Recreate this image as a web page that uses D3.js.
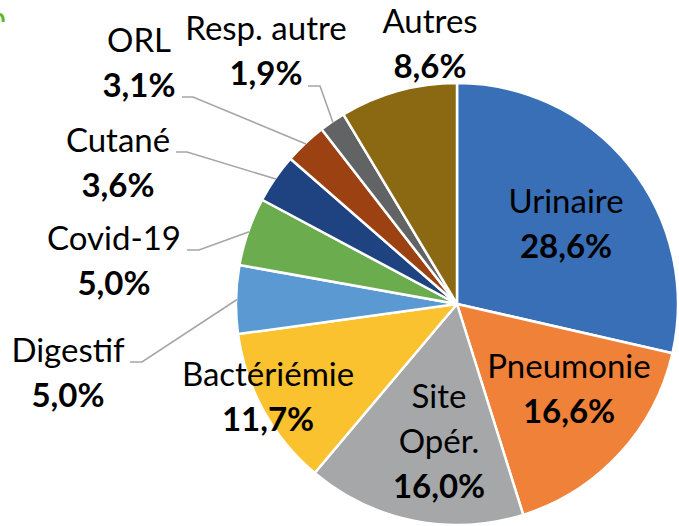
<!DOCTYPE html>
<html lang="fr">
<head>
<meta charset="utf-8">
<title>Sites infectieux</title>
<style>
  body { margin: 0; background: #fff; }
  svg { display: block; }
  text { font-family: Lato, "Open Sans", sans-serif; fill: #000; }
  .pct { font-weight: bold; }
</style>
</head>
<body>
<svg width="679" height="526"></svg>
<script src="https://d3js.org/d3.v7.min.js"></script>
<script>
// data, clockwise from 12 o'clock
var categories = ["Urinaire", "Pneumonie", "Site Opér.", "Bactériémie", "Digestif", "Covid-19", "Cutané", "ORL", "Resp. autre", "Autres"];
var values = [28.6, 16.6, 16.0, 11.7, 5.0, 5.0, 3.6, 3.1, 1.9, 8.6];
var colors = ["#386fb7", "#ef8139", "#a5a7a8", "#f9c22e", "#5a99d1", "#6aac4e", "#1f4280", "#9c4111", "#626365", "#8b6912"];

// label layout: text lines, anchor x, first baseline y, and leader start (null = inside slice)
var labelLayout = [
  {lines: ["Urinaire"], x: 566, y: 213, lead: null},
  {lines: ["Pneumonie"], x: 569, y: 378, lead: null},
  {lines: ["Site", "Opér."], x: 439, y: 408, lead: null},
  {lines: ["Bactériémie"], x: 268, y: 386, lead: null},
  {lines: ["Digestif"], x: 68, y: 362, lead: [[130, 362], [142, 362]]},
  {lines: ["Covid-19"], x: 114, y: 250, lead: [[187, 250], [199, 250]]},
  {lines: ["Cutané"], x: 118, y: 152, lead: [[176, 152], [187, 152]]},
  {lines: ["ORL"], x: 139, y: 52, lead: [[182, 97], [193, 97]]},
  {lines: ["Resp. autre"], x: 266, y: 40, lead: [[308, 86], [320, 86]]},
  {lines: ["Autres"], x: 430, y: 33, lead: null}
];

var svg = d3.select("svg"),
    cx = 457, cy = 304, radius = 221,
    lineGap = 45;

var fmt = function(v) { return d3.format(".1f")(v).replace(".", ",") + "%"; };

var pie = d3.pie().sort(null).value(function(d) { return d; });
var arcs = pie(values);
var arc = d3.arc().innerRadius(0).outerRadius(radius);

var g = svg.append("g").attr("transform", "translate(" + cx + "," + cy + ")");

g.selectAll("path.slice").data(arcs).enter()
  .append("path")
    .attr("class", "slice")
    .attr("d", arc)
    .attr("fill", function(d, i) { return colors[i]; })
    .attr("stroke", "#fff")
    .attr("stroke-width", 2.5)
    .attr("stroke-linejoin", "round");

// leader lines
arcs.forEach(function(d, i) {
  var lay = labelLayout[i];
  if (!lay.lead) return;
  var a = (d.startAngle + d.endAngle) / 2;
  var end = [cx + (radius - 1) * Math.sin(a), cy - (radius - 1) * Math.cos(a)];
  svg.append("polyline")
    .attr("points", lay.lead.concat([end]).map(function(p) { return p.join(","); }).join(" "))
    .attr("fill", "none")
    .attr("stroke", "#a6a6a6")
    .attr("stroke-width", 1.6);
});

// labels
labelLayout.forEach(function(lay, i) {
  var t = svg.append("text")
    .attr("text-anchor", "middle")
    .style("font-size", "33px");
  lay.lines.forEach(function(s, k) {
    t.append("tspan").attr("x", lay.x).attr("y", lay.y + k * lineGap).text(s);
  });
  t.append("tspan")
    .attr("class", "pct")
    .attr("x", lay.x)
    .attr("y", lay.y + lay.lines.length * lineGap)
    .text(fmt(values[i]));
});

// stray green mark at top-left corner of the source slide
svg.append("path")
  .attr("d", "M0,14 Q4,16 3,22")
  .attr("fill", "none")
  .attr("stroke", "#5cb82e")
  .attr("stroke-width", 3);
</script>
</body>
</html>
